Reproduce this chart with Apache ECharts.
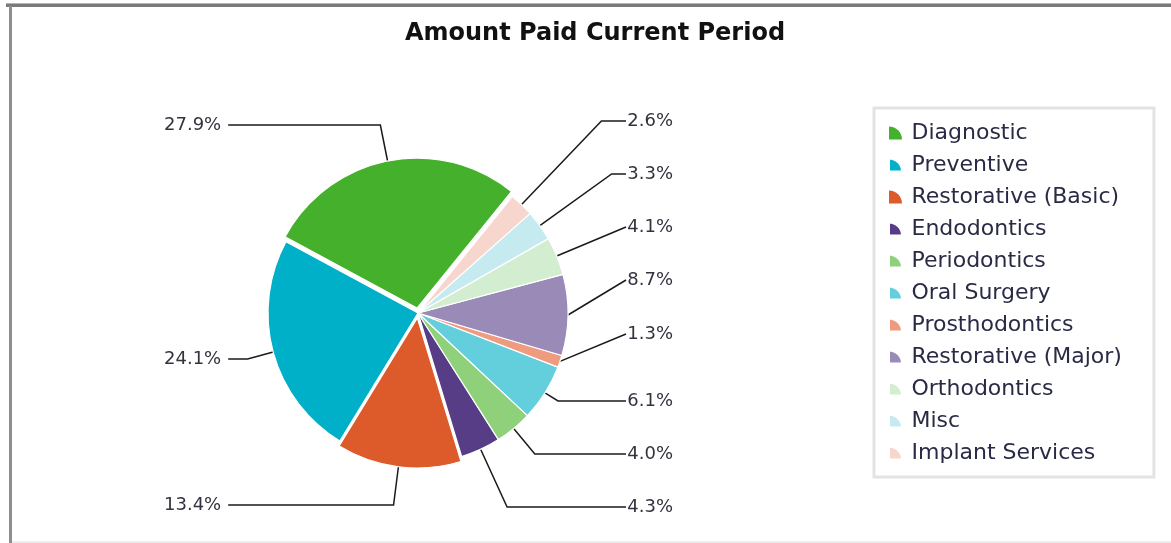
<!DOCTYPE html>
<html><head><meta charset="utf-8">
<script src="https://cdn.jsdelivr.net/npm/echarts@6/dist/echarts.min.js"></script>
<style>html,body{margin:0;padding:0;background:#fff}#c{width:1171px;height:543px}</style>
</head><body><div id="c"></div>
<script>
// ---- data ----
const categories = ['Diagnostic','Preventive','Restorative (Basic)','Endodontics','Periodontics','Oral Surgery','Prosthodontics','Restorative (Major)','Orthodontics','Misc','Implant Services'];
const shares = [27.9, 24.1, 13.4, 4.3, 4.0, 6.1, 1.3, 8.7, 4.1, 3.3, 2.6];
const explodedSlices = ['Diagnostic', 'Restorative (Basic)'];
const titleText = 'Amount Paid Current Period';

// ---- styling / layout ----
const colors = ['#45b02c','#00afc8','#dd5a2b','#563d86','#8fd07b','#63cedc','#ee9b80','#9a8ab8','#d3edd0','#c5ebf1','#f7d6cd'];
const labelRowY = [125, 359, 505, 507, 454, 401, 334, 280, 227, 174, 121];
const CX = 418, CY = 313, R = 150;
const LEFT_TEXT_X = 164, RIGHT_TEXT_X = 673, RIGHT_LINE_END = 626, LEFT_GAP = 7;
const FONT = 'DejaVu Sans';
const HIDDEN = 'rgba(0,0,0,0)';

const chart = echarts.init(document.getElementById('c'), null, {renderer: 'canvas'});

const isExploded = n => explodedSlices.indexOf(n) >= 0;

// base pie: non-exploded slices + all labels
const baseData = categories.map((n, i) => ({
  name: n, value: shares[i],
  itemStyle: isExploded(n) ? {color: HIDDEN, borderWidth: 0} : {color: colors[i]}
}));
// overlay pie: only the exploded slices, offset outward
const explodeData = categories.map((n, i) => ({
  name: n, value: shares[i], selected: isExploded(n),
  itemStyle: isExploded(n) ? {color: colors[i]} : {color: HIDDEN, borderWidth: 0}
}));

function layoutLabel(params) {
  const i = params.dataIndex;
  const pts = params.labelLinePoints;
  const p0 = pts ? pts[0].slice() : [CX, CY];
  const ly = labelRowY[i];
  const left = p0[0] < CX;
  const w = params.labelRect.width;
  const endX = left ? LEFT_TEXT_X + w + LEFT_GAP : RIGHT_LINE_END;
  let dx = p0[0] - CX, dy = p0[1] - CY;
  const len = Math.hypot(dx, dy) || 1; dx /= len; dy /= len;
  if (isExploded(categories[i])) { p0[0] += dx * 5; p0[1] += dy * 5; }
  let elbow = [endX, ly];
  const ddy = ly - p0[1];
  if (Math.abs(dy) > 0.05 && ddy * dy > 0) {
    const ex = p0[0] + (ddy / dy) * dx;
    if (left ? ex > endX : ex < endX) elbow = [ex, ly];
  }
  return {
    x: left ? LEFT_TEXT_X : RIGHT_TEXT_X, y: ly,
    align: left ? 'left' : 'right', verticalAlign: 'middle',
    labelLinePoints: [p0, elbow, [endX, ly]]
  };
}

const common = {
  type: 'pie', center: [CX, CY], radius: R,
  startAngle: 51, clockwise: false,
  avoidLabelOverlap: false,
  emphasis: {disabled: true},
  itemStyle: {borderColor: '#fff', borderWidth: 1.2}
};

chart.setOption({
  animation: false,
  backgroundColor: '#fff',
  title: {
    text: titleText, left: 590, top: 17, textAlign: 'center',
    textStyle: {fontFamily: FONT, fontWeight: 'bold', fontSize: 24, color: '#111'}
  },
  legend: {
    orient: 'vertical', left: 874, top: 108,
    padding: [14, 32, 13, 14],
    borderColor: '#e3e3e3', borderWidth: 3,
    itemWidth: 14, itemHeight: 13, itemGap: 10,
    icon: 'path://M0,0 C5.52,0 10,4.48 10,10 L0,10 Z',
    selectedMode: false,
    data: categories.map((n, i) => ({name: n, itemStyle: {color: colors[i]}})),
    textStyle: {fontFamily: FONT, fontSize: 22, lineHeight: 22, color: '#2a2a45', padding: [0,0,0,4]}
  },
  graphic: [
    {type: 'rect', shape: {x: 6, y: 3, width: 1165, height: 4}, style: {fill: '#7a7a7a'}, silent: true},
    {type: 'rect', shape: {x: 6, y: 3, width: 1165, height: 1}, style: {fill: '#b5b5b5'}, silent: true},
    {type: 'rect', shape: {x: 9, y: 6, width: 3, height: 537}, style: {fill: '#8e8e8e'}, silent: true},
    {type: 'rect', shape: {x: 12, y: 541, width: 1159, height: 2}, style: {fill: '#ededed'}, silent: true}
  ],
  series: [
    Object.assign({}, common, {
      name: 'base',
      label: {
        show: true, position: 'outside',
        formatter: p => p.value.toFixed(1) + '%',
        fontFamily: FONT, fontSize: 18, color: '#33333f'
      },
      labelLine: {show: true, length: 20, length2: 20, lineStyle: {color: '#1a1a1a', width: 1.5}},
      labelLayout: layoutLabel,
      data: baseData
    }),
    Object.assign({}, common, {
      name: 'exploded', silent: true,
      selectedMode: 'multiple', selectedOffset: 5,
      label: {show: false}, labelLine: {show: false},
      data: explodeData
    })
  ]
});
</script></body></html>
